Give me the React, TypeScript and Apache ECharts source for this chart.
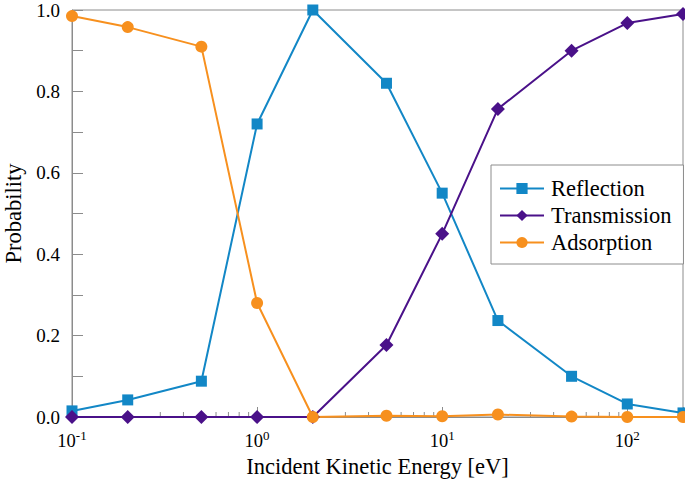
import React, { useEffect, useRef } from "react";
import * as echarts from "echarts";

const energies = [0.1, 0.2, 0.5, 1, 2, 5, 10, 20, 50, 100, 200];
const reflection = [0.015, 0.042, 0.088, 0.72, 1.0, 0.82, 0.55, 0.237, 0.1, 0.032, 0.01];
const transmission = [0, 0, 0, 0, 0, 0.177, 0.45, 0.757, 0.9, 0.968, 0.99];
const adsorption = [0.985, 0.958, 0.91, 0.28, 0.0, 0.003, 0.002, 0.006, 0.001, 0.0, 0.0];
const minorTickValues = [
  0.2, 0.3, 0.4, 0.5, 0.6, 0.7, 0.8, 0.9,
  2, 3, 4, 5, 6, 7, 8, 9,
  20, 30, 40, 50, 60, 70, 80, 90,
];

const FONT = "Liberation Serif";
const GRAY = "#8c8c8c";
const C_REF = "#1287c6";
const C_TRA = "#4a1189";
const C_ADS = "#f7901e";

export default function App() {
  const ref = useRef<HTMLDivElement>(null);
  useEffect(() => {
    if (!ref.current) return;
    const chart = echarts.init(ref.current, null, { renderer: "svg" });
    const pair = (ys: number[]) => energies.map((x, i) => [x, ys[i]]);
    const lineSeries = (name: string, ys: number[], color: string, symbol: string, size: number) => ({
      name,
      type: "line",
      data: pair(ys),
      symbol,
      symbolSize: size,
      clip: false,
      color,
      lineStyle: { color, width: 2 },
      itemStyle: { color },
    });
    chart.setOption({
      animation: false,
      textStyle: { fontFamily: FONT },
      grid: {
        left: 72,
        right: 2,
        top: 10,
        bottom: 72,
        outerBoundsMode: "none",
        containLabel: false,
        show: true,
        borderColor: GRAY,
        borderWidth: 1,
      },
      legend: {
        data: ["Reflection", "Transmission", "Adsorption"],
        orient: "vertical",
        left: 491,
        top: 165,
        padding: [12, 12, 10, 8],
        itemGap: 4,
        itemWidth: 44,
        itemHeight: 14,
        borderColor: GRAY,
        borderWidth: 1,
        backgroundColor: "#ffffff",
        textStyle: { fontFamily: FONT, fontSize: 22.5, color: "#000", padding: [0, 0, 0, 2] },
      },
      xAxis: {
        type: "log",
        logBase: 10,
        min: 0.1,
        max: 200,
        name: "Incident Kinetic Energy [eV]",
        nameLocation: "middle",
        nameGap: 38,
        nameTextStyle: { fontFamily: FONT, fontSize: 22.5, color: "#000" },
        axisLine: { lineStyle: { color: GRAY, width: 1 } },
        axisTick: { inside: true, length: 10, lineStyle: { color: GRAY } },
        splitLine: { show: false },
        axisLabel: {
          margin: 12,
          color: "#000",
          formatter: (v: number) => {
            const e = Math.log10(v);
            if (Math.abs(e - Math.round(e)) > 1e-6) return "";
            return "{b|10}{s|" + Math.round(e) + "}";
          },
          rich: {
            b: { fontFamily: FONT, fontSize: 18.5, color: "#000" },
            s: { fontFamily: FONT, fontSize: 13, color: "#000", padding: [0, 0, 10, 0] },
          },
        },
      },
      yAxis: {
        type: "value",
        min: 0,
        max: 1,
        interval: 0.2,
        name: "Probability",
        nameLocation: "middle",
        nameGap: 46,
        nameTextStyle: { fontFamily: FONT, fontSize: 22.5, color: "#000" },
        axisLine: { show: true, lineStyle: { color: GRAY, width: 1 } },
        axisTick: { show: true, inside: true, length: 11, lineStyle: { color: GRAY } },
        minorTick: { show: true, splitNumber: 2, length: 11, lineStyle: { color: GRAY } },
        splitLine: { show: false },
        axisLabel: {
          margin: 12,
          fontFamily: FONT,
          fontSize: 19,
          color: "#000",
          formatter: (v: number) => v.toFixed(1),
        },
      },
      series: [
        {
          type: "custom",
          name: "minorTicks",
          data: minorTickValues.map((v) => [v, 0]),
          silent: true,
          z: 1,
          renderItem: (_params: any, api: any) => {
            const p = api.coord([api.value(0), 0]);
            return {
              type: "line",
              shape: { x1: p[0], y1: p[1], x2: p[0], y2: p[1] - 5 },
              style: { stroke: GRAY, lineWidth: 1 },
            };
          },
        },
        lineSeries("Reflection", reflection, C_REF, "rect", 11),
        lineSeries("Transmission", transmission, C_TRA, "diamond", 14),
        lineSeries("Adsorption", adsorption, C_ADS, "circle", 12),
      ],
    });
    return () => chart.dispose();
  }, []);
  return <div ref={ref} style={{ width: 685, height: 489, position: "absolute", left: 0, top: 0 }} />;
}
